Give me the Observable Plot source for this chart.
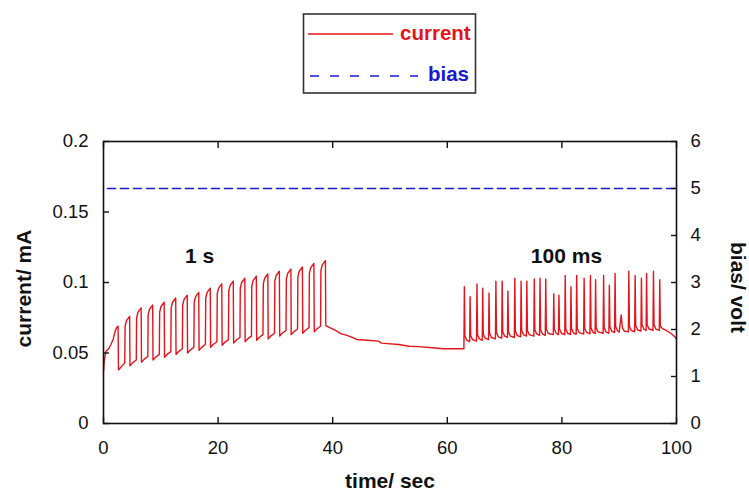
<!DOCTYPE html>
<html><head><meta charset="utf-8">
<script src="https://cdn.jsdelivr.net/npm/d3@7"></script>
<script src="https://cdn.jsdelivr.net/npm/@observablehq/plot@0.6"></script>
<style>
html,body{margin:0;padding:0;background:#fff;}
#wrap{position:relative;width:749px;height:503px;font-family:"Liberation Sans",Arial,sans-serif;overflow:hidden;}
#legend{display:block;}
#chart svg{display:block;}
</style></head>
<body>
<div id="wrap">
<svg id="legend" width="749" height="100" font-family="Liberation Sans, Arial, sans-serif">
  <rect x="303.5" y="14" width="172" height="79" fill="#fff" stroke="#333" stroke-width="1.6"></rect>
  <line x1="308" x2="393" y1="34" y2="34" stroke="#e3141b" stroke-width="1.5"></line>
  <text x="400" y="39.5" fill="#e3141b" font-weight="bold" font-size="20.5">current</text>
  <line x1="310" x2="418" y1="76" y2="76" stroke="#1a1ad0" stroke-width="1.6" stroke-dasharray="9,11"></line>
  <text x="428" y="80.5" fill="#1a1ad0" font-weight="bold" font-size="20.5">bias</text>
</svg>
<div id="chart"></div>
</div>
<script>
// ---- data ----
const xTicks = [0, 20, 40, 60, 80, 100];
const currentTicks = [0, 0.05, 0.1, 0.15, 0.2];
const biasTicks = [0, 1, 2, 3, 4, 5, 6];
const voltPerMA = 30; // right axis 0..6 V spans the left axis 0..0.2 mA

// bias (V) vs time (s)
const biasTime = [0.7, 100];
const biasVolt = [5, 5];

// annotations
const noteLabels = ["1 s", "100 ms"];
const noteTime = [16.75, 80.8];
const noteCurrent = [0.1184, 0.1184];

// current (mA) vs time (s): 1 s pulse train
const pulseTrace = [
  [0,0.037],[0.15,0.045],[0.4,0.051],[0.9,0.053],[1.3,0.056],[1.7,0.060],[2.0,0.065],[2.3,0.068],[2.55,0.069],[2.61,0.038],[3.05,0.040],[3.71,0.043],
  [3.77,0.069],[4.01,0.073],[4.56,0.076],[4.62,0.041],[5.06,0.043],[5.72,0.045],
  [5.78,0.075],[6.02,0.079],[6.57,0.082],[6.63,0.0435],[7.07,0.0455],[7.73,0.0475],
  [7.79,0.077],[8.03,0.081],[8.58,0.084],[8.64,0.045],[9.08,0.047],[9.74,0.049],
  [9.8,0.079],[10.04,0.083],[10.59,0.086],[10.65,0.047],[11.09,0.049],[11.75,0.051],
  [11.81,0.082],[12.05,0.086],[12.6,0.089],[12.66,0.049],[13.1,0.051],[13.76,0.053],
  [13.82,0.084],[14.06,0.088],[14.61,0.091],[14.67,0.050],[15.11,0.052],[15.77,0.054],
  [15.83,0.086],[16.07,0.090],[16.62,0.093],[16.68,0.052],[17.12,0.054],[17.78,0.056],
  [17.84,0.089],[18.08,0.093],[18.63,0.096],[18.69,0.054],[19.13,0.056],[19.79,0.058],
  [19.85,0.092],[20.09,0.096],[20.64,0.099],[20.7,0.0555],[21.14,0.0575],[21.8,0.0595],
  [21.86,0.094],[22.1,0.098],[22.65,0.101],[22.71,0.057],[23.15,0.059],[23.81,0.061],
  [23.87,0.096],[24.11,0.100],[24.66,0.103],[24.72,0.058],[25.16,0.060],[25.82,0.062],
  [25.88,0.0975],[26.12,0.1015],[26.67,0.1045],[26.73,0.059],[27.17,0.061],[27.83,0.063],
  [27.89,0.099],[28.13,0.103],[28.68,0.106],[28.74,0.060],[29.18,0.062],[29.84,0.064],
  [29.9,0.101],[30.14,0.105],[30.69,0.108],[30.75,0.062],[31.19,0.064],[31.85,0.066],
  [31.91,0.1025],[32.15,0.1065],[32.7,0.1095],[32.76,0.063],[33.2,0.065],[33.86,0.067],
  [33.92,0.104],[34.16,0.108],[34.71,0.111],[34.77,0.064],[35.21,0.066],[35.87,0.068],
  [35.93,0.1065],[36.17,0.1105],[36.72,0.1135],[36.78,0.065],[37.22,0.067],[37.88,0.069],
  [37.94,0.1085],[38.18,0.1125],[38.73,0.1155],[38.79,0.0695]
];

// relaxation with no pulses
const restTrace = [
  [39.5,0.068],[40.5,0.066],[41.5,0.0636],[42.5,0.0625],[43.3,0.0612],[44.2,0.0596],[46,0.059],[48,0.0584],
  [48.5,0.057],[51.5,0.056],[53.3,0.0548],[55,0.0545],[57.4,0.0537],[59.3,0.053]
];

// 100 ms spike train
const spikeTrace = [
  [62.9,0.053],[62.98,0.097],[63.08,0.062],[63.4,0.059],
  [63.9,0.058],[63.98,0.090],[64.08,0.0625],[64.4,0.0595],
  [65.1,0.0585],[65.18,0.099],[65.28,0.063],[65.6,0.060],
  [66.1,0.059],[66.18,0.096],[66.28,0.0635],[66.6,0.0605],
  [67.2,0.0595],[67.28,0.0925],[67.38,0.064],[67.7,0.061],
  [68.4,0.060],[68.48,0.101],[68.58,0.0645],[68.9,0.0615],
  [69.5,0.0605],[69.58,0.101],[69.68,0.065],[70.0,0.062],
  [70.5,0.061],[70.58,0.094],[70.68,0.065],[71.0,0.062],
  [71.7,0.061],[71.78,0.103],[71.88,0.0655],[72.2,0.0625],
  [72.8,0.0615],[72.88,0.101],[72.98,0.066],[73.3,0.063],
  [73.8,0.062],[73.88,0.101],[73.98,0.066],[74.3,0.063],
  [75.1,0.062],[75.18,0.1025],[75.28,0.0665],[75.6,0.0635],
  [76.1,0.0625],[76.18,0.103],[76.28,0.0665],[76.6,0.0635],
  [77.1,0.0625],[77.18,0.1025],[77.28,0.067],[77.6,0.064],
  [78.5,0.063],[78.58,0.092],[78.68,0.067],[79.0,0.064],
  [79.4,0.063],[79.48,0.091],[79.58,0.067],[79.9,0.064],
  [80.5,0.063],[80.58,0.105],[80.68,0.067],[81.0,0.064],
  [81.5,0.0632],[81.58,0.097],[81.68,0.0673],[82.0,0.0643],
  [82.5,0.0633],[82.58,0.105],[82.68,0.0675],[83.0,0.0645],
  [83.8,0.0635],[83.88,0.103],[83.98,0.0676],[84.3,0.0646],
  [84.9,0.0636],[84.98,0.105],[85.08,0.0678],[85.4,0.0648],
  [85.8,0.0638],[85.88,0.102],[85.98,0.068],[86.3,0.065],
  [87.2,0.064],[87.28,0.105],[87.38,0.068],[87.7,0.065],
  [88.2,0.064],[88.28,0.098],[88.38,0.0685],[88.7,0.0655],
  [89.2,0.0645],[89.28,0.1065],[89.38,0.0688],[89.7,0.0658],
  [90.0,0.0648],[90.35,0.077],[90.55,0.068],[90.9,0.0655],
  [91.6,0.065],[91.68,0.108],[91.78,0.069],[92.1,0.066],
  [92.7,0.065],[92.78,0.105],[92.88,0.0695],[93.2,0.0665],
  [93.8,0.0655],[93.88,0.103],[93.98,0.070],[94.3,0.067],
  [94.7,0.066],[94.78,0.1065],[94.88,0.070],[95.2,0.067],
  [95.9,0.066],[95.98,0.108],[96.08,0.070],[96.4,0.067],
  [97.0,0.066],[97.08,0.102],[97.18,0.069],[97.5,0.0675],
  [98.2,0.066],[99.0,0.064],[99.7,0.0615],[100,0.060]
];

// ---- build tables ----
const currentRows = [...pulseTrace, ...restTrace, ...spikeTrace].map(([t, i]) => ({t, i}));
const biasRows = biasTime.map((t, k) => ({t, v: biasVolt[k]}));
const notes = noteLabels.map((label, k) => ({label, t: noteTime[k], i: noteCurrent[k]}));

const red = "#e3141b", blue = "#1a1ad0", ink = "#111";

const chart = Plot.plot({
  width: 749,
  height: 403,
  marginTop: 41,
  marginBottom: 80,
  marginLeft: 103,
  marginRight: 73,
  x: {domain: [0, 100]},
  y: {domain: [0, 0.2]},
  style: {fontFamily: "Liberation Sans, Arial, sans-serif", fontSize: "18.5px", color: ink, background: "#fff", overflow: "visible"},
  marks: [
    Plot.line(biasRows, {x: "t", y: d => d.v / voltPerMA, stroke: blue, strokeWidth: 1.6, strokeDasharray: "8,5"}),
    Plot.line(currentRows, {x: "t", y: "i", stroke: red, strokeWidth: 1.4, strokeLinejoin: "round"}),
    Plot.text(notes, {x: "t", y: "i", text: "label", fontWeight: "bold", fontSize: 21, fill: ink}),
    Plot.frame({stroke: ink, strokeWidth: 1.6}),
    Plot.axisX({ticks: xTicks, anchor: "bottom", tickSize: -6, tickPadding: 23, strokeWidth: 1.4, tickFormat: d => String(d), label: null}),
    Plot.axisX({ticks: xTicks, anchor: "top", tickSize: -6, strokeWidth: 1.4, tickFormat: () => "", label: null}),
    Plot.axisY({ticks: currentTicks, anchor: "left", tickSize: -6, tickPadding: 21, strokeWidth: 1.4, tickFormat: d => String(d), label: null}),
    Plot.axisY({ticks: biasTicks.map(v => v / voltPerMA), anchor: "right", tickSize: -6, tickPadding: 20, strokeWidth: 1.4, tickFormat: d => String(Math.round(d * voltPerMA)), label: null}),
    Plot.text(["time/ sec"], {text: d => d, frameAnchor: "bottom", dy: 64, textAnchor: "middle", fontWeight: "bold", fontSize: 21, fill: ink}),
    Plot.text(["current/ mA"], {text: d => d, frameAnchor: "left", dx: -79, dy: 6, textAnchor: "middle", rotate: -90, fontWeight: "bold", fontSize: 21, fill: ink}),
    Plot.text(["bias/ volt"], {text: d => d, frameAnchor: "right", dx: 61, dy: 5, textAnchor: "middle", rotate: 90, fontWeight: "bold", fontSize: 21, fill: ink})
  ]
});
document.getElementById("chart").appendChild(chart);
</script>
</body></html>
